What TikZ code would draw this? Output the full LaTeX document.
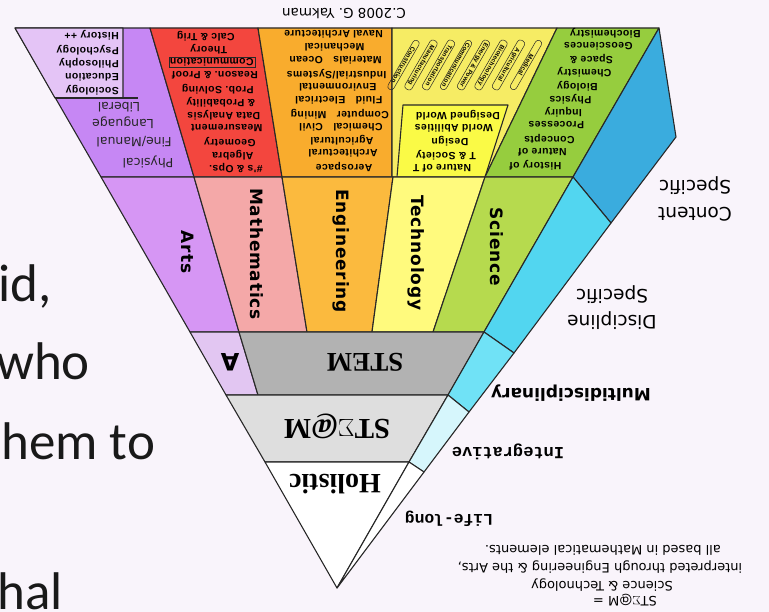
\documentclass[tikz,border=0pt]{standalone}
\usepackage{fontspec}
\setmainfont{Liberation Sans}
\newfontfamily\colfont{DejaVu Sans}[LetterSpace=5]
\newfontfamily\notefont{DejaVu Sans}
\newfontfamily\bandfont{Liberation Serif}
\newfontfamily\typefont{Liberation Mono}
\newfontfamily\slidefont{Carlito}
\newfontfamily\cellfont{Liberation Sans}[LetterSpace=4]
\usetikzlibrary{fit}

\definecolor{bgpage}{RGB}{249,244,251}
\definecolor{artsD}{RGB}{214,150,244}
\definecolor{artsC}{RGB}{198,135,244}
\definecolor{artsBox}{RGB}{228,196,246}
\definecolor{mathD}{RGB}{244,168,168}
\definecolor{mathC}{RGB}{243,70,62}
\definecolor{engD}{RGB}{251,186,62}
\definecolor{engC}{RGB}{249,172,45}
\definecolor{techD}{RGB}{255,250,125}
\definecolor{techC}{RGB}{246,236,100}
\definecolor{techBox}{RGB}{250,250,70}
\definecolor{sciD}{RGB}{182,218,78}
\definecolor{sciC}{RGB}{150,205,62}
\definecolor{stemG}{RGB}{178,178,178}
\definecolor{aBox}{RGB}{226,198,242}
\definecolor{integG}{RGB}{222,222,222}
\definecolor{contB}{RGB}{58,172,222}
\definecolor{discB}{RGB}{82,214,240}
\definecolor{multiB}{RGB}{112,226,246}
\definecolor{integB}{RGB}{214,246,252}
\definecolor{inkline}{RGB}{40,40,40}

\newcommand{\contentsize}{\fontsize{10.4}{11}\selectfont}

\begin{document}
\begin{tikzpicture}[x=1pt,y=-1pt,
  band/.style={draw=inkline,line width=1.1pt,line join=round},
  lbl/.style={rotate=180,inner sep=0pt},
  colname/.style={rotate=-90,inner sep=0pt,font=\colfont\bfseries\fontsize{17}{17}\selectfont},
  content/.style={lbl,font=\cellfont\bfseries\contentsize},
  cell/.style={rotate=240,draw=inkline,line width=0.5pt,rounded corners=3pt,inner sep=1pt,
    minimum width=56pt,font=\cellfont\bfseries\fontsize{6.2}{6.2}\selectfont},
  slide/.style={anchor=base west,inner sep=0pt,font=\slidefont\fontsize{53}{53}\selectfont,text=black!90}]

\fill[bgpage] (0,0) rectangle (769,612);
\useasboundingbox (0,0) rectangle (769,612);

% slide text behind the pyramid
\node[slide] (s1) at (-2,302) {id,};
\node[slide] (s2) at (-4,380) {who};
\node[slide] (s3) at (1,460) {hem to};
\node[slide] (s4) at (-3,609) {hal};

% content specific band
\filldraw[band,fill=artsC] (101,177) -- (15,28) -- (150,28) -- (194,177) -- cycle;
\filldraw[band,fill=artsBox] (15,28) -- (123,28) -- (123,98) -- (55,98) -- cycle;
\draw[band] (55,98) -- (138,98);
\filldraw[band,fill=mathC] (150,28) -- (258,28) -- (282,177) -- (194,177) -- cycle;
\filldraw[band,fill=engC] (258,28) -- (392,28) -- (392,177) -- (282,177) -- cycle;
\filldraw[band,fill=techC] (392,28) -- (557,28) -- (485,177) -- (392,177) -- cycle;
\filldraw[band,fill=techBox] (403,105) -- (508,105) -- (485,177) -- (397,177) -- cycle;
\filldraw[band,fill=sciC] (557,28) -- (659,28) -- (573,177) -- (485,177) -- cycle;
\filldraw[band,fill=contB] (659,28) -- (676,137) -- (611,223) -- (573,177) -- cycle;

% discipline specific band
\filldraw[band,fill=artsD] (101,177) -- (194,177) -- (239,332) -- (190,332) -- cycle;
\filldraw[band,fill=mathD] (194,177) -- (282,177) -- (307,332) -- (239,332) -- cycle;
\filldraw[band,fill=engD] (282,177) -- (393,177) -- (372,332) -- (307,332) -- cycle;
\filldraw[band,fill=techD] (393,177) -- (485,177) -- (433,332) -- (372,332) -- cycle;
\filldraw[band,fill=sciD] (485,177) -- (573,177) -- (484,332) -- (433,332) -- cycle;
\filldraw[band,fill=discB] (573,177) -- (611,223) -- (514,353) -- (484,332) -- cycle;

% multidisciplinary band
\filldraw[band,fill=aBox] (190,332) -- (239,332) -- (258,395) -- (226,395) -- cycle;
\filldraw[band,fill=stemG] (239,332) -- (484,332) -- (448,395) -- (258,395) -- cycle;
\filldraw[band,fill=multiB] (484,332) -- (514,353) -- (469,412) -- (448,395) -- cycle;

% integrative band
\filldraw[band,fill=integG] (226,395) -- (448,395) -- (409,462) -- (265,462) -- cycle;
\filldraw[band,fill=integB] (448,395) -- (469,412) -- (424,472) -- (409,462) -- cycle;

% life-long band
\filldraw[band,fill=white] (265,462) -- (409,462) -- (337,588) -- cycle;
\filldraw[band,fill=white] (409,462) -- (424,472) -- (337,588) -- cycle;

% content lists
\foreach \txt/\xx/\yy [count=\i] in {Physical/148/162,{Fine/Manual}/134/142,Language/123/123,Liberal/119/107}
  \node[lbl,font=\notefont\fontsize{12.5}{13}\selectfont,text=black!85] (arts\i) at (\xx,\yy) {\txt};
\foreach \txt/\yy [count=\i] in {Sociology/90,Education/77,Philosophy/63,Psychology/50,History ++/35}
  \node[content,anchor=west] (soc\i) at (119,\yy) {\txt};
\foreach \txt [count=\i] in {\#'s \& Ops.,Algebra,Geometry,Measurement,Data Analysis,\& Probability,Prob.\ Solving,Reason.\ \& Proof,Communication,Theory,Calc \& Trig}
  \node[content] (math\i) at ({204+0.2275*(140-(\i-1)*13.2)},{168-(\i-1)*13.2}) {\txt};
\node[draw=inkline,line width=0.5pt,inner sep=1pt,fit=(math9)] (commbox) {};
\foreach \txt [count=\i] in {Aerospace,Architectural,Agricultural,Chemical\quad Civil,Computer\quad Mining,Fluid\quad Electrical,Environmental,Industrial/Systems,Materials\quad Ocean,Mechanical,Naval Architecture}
  \node[content] (eng\i) at ({333+0.08*(139-(\i-1)*13.3)},{167-(\i-1)*13.3}) {\txt};
\foreach \txt [count=\i] in {Nature of T,T \& Society,Design,World Abilities,Designed World}
  \node[content] (tech\i) at ({442+0.3*(\i-1)*13.3},{168-(\i-1)*13.3}) {\txt};
\foreach \txt [count=\i] in {Medical,Agricultural,Biotechnology,Energy \& Power,Communication,Transportation,Manufacturing,Construction}
  \node[cell] (area\i) at ({526-(\i-1)*17.5},{65}) {\txt};
\foreach \txt [count=\i] in {History of,Nature of,Concepts,Processes,Inquiry,Physics,Biology,Chemistry,Space \&,Geosciences,Biochemistry}
  \node[content] (sci\i) at ({608-0.53*(137-(\i-1)*13.2)},{165-(\i-1)*13.2}) {\txt};

% discipline names
\node[colname] (arts) at (188,252) {Arts};
\node[colname] (math) at (257,254) {Mathematics};
\node[colname] (eng) at (341,251) {Engineering};
\node[colname] (tech) at (416,253) {Technology};
\node[colname] (sci) at (497,247) {Science};

% level names
\node[lbl,font=\colfont\bfseries\fontsize{24}{24}\selectfont] (alett) at (230,362) {A};
\node[lbl,font=\bandfont\bfseries\fontsize{27}{27}\selectfont] (stem) at (365,362) {STEM};
\node[lbl,font=\bandfont\bfseries\fontsize{29}{29}\selectfont] (steam) at (337,426) {ST$\Sigma$@M};
\node[lbl,font=\bandfont\bfseries\fontsize{28}{28}\selectfont] (holist) at (335,484) {Holistic};

% strip names
\node[lbl,align=center,font=\notefont\fontsize{18.5}{27}\selectfont] (contsp) at (695,199) {Content\\Specific};
\node[lbl,align=center,font=\notefont\fontsize{18.5}{26}\selectfont] (discsp) at (612,308) {Discipline\\Specific};
\node[lbl,font=\notefont\bfseries\fontsize{17}{17}\selectfont] (multi) at (571,393) {Multidisciplinary};
\node[lbl,font=\typefont\bfseries\fontsize{17}{17}\selectfont] (integ) at (508,452) {Integrative};
\node[lbl,font=\typefont\bfseries\fontsize{16.3}{16}\selectfont] (life) at (449,519) {Life-long};

% credit and note
\node[lbl,font=\notefont\fontsize{13.5}{14}\selectfont] (credit) at (344,14) {C.2008 G. Yakman};
\node[lbl,font=\notefont\fontsize{13}{14}\selectfont] (note1) at (625,600) {ST$\Sigma$@M =};
\node[lbl,font=\notefont\fontsize{13}{14}\selectfont] (note2) at (602,585) {Science \& Technology};
\node[lbl,font=\notefont\fontsize{13}{14}\selectfont] (note3) at (600,567) {interpreted through Engineering \& the Arts,};
\node[lbl,font=\notefont\fontsize{13}{14}\selectfont] (note4) at (603,550) {all based in Mathematical elements.};
\end{tikzpicture}
\end{document}
